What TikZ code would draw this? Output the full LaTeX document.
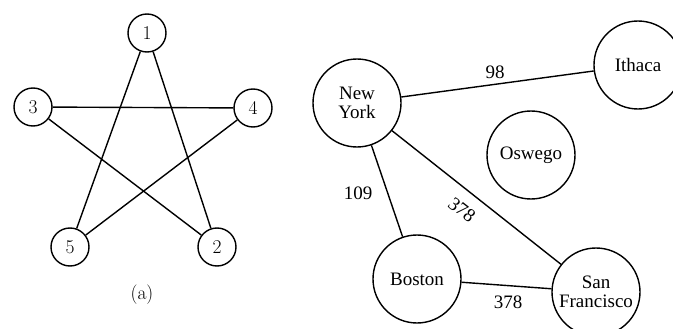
\documentclass[tikz,border=0pt]{standalone}
\usepackage{fontspec}
\newfontfamily\cityfont{Liberation Serif}
\begin{document}
\begin{tikzpicture}[x=1pt,y=-1pt,
  vertex/.style={circle,draw,line width=1.4pt,minimum size=38pt,inner sep=0pt,
    font=\fontsize{19.5}{22}\selectfont},
  city/.style={circle,draw,line width=1.4pt,minimum size=88pt,inner sep=0pt,
    align=center,font=\cityfont\fontsize{19}{19.5}\selectfont},
  edge/.style={line width=1.4pt},
  weight/.style={font=\cityfont\fontsize{19}{20}\selectfont,inner sep=0pt}]
  \useasboundingbox (0,0) rectangle (673,329);
  \clip (0,0) rectangle (673,329);

  % (a) five-vertex star
  \node[vertex] (v1) at (147,33)  {1};
  \node[vertex] (v3) at (33,107)  {3};
  \node[vertex] (v4) at (253,108) {4};
  \node[vertex] (v5) at (70,247)  {5};
  \node[vertex] (v2) at (217,247) {2};
  \draw[edge] (v1) -- (v5);
  \draw[edge] (v1) -- (v2);
  \draw[edge] (v3) -- (v4);
  \draw[edge] (v3) -- (v2);
  \draw[edge] (v4) -- (v5);
  \node[font=\fontsize{19.5}{22}\selectfont] (cap) at (142,295) {(a)};

  % city network with distances
  \node[city] (ny) at (357,103) {New\\York};
  \node[city] (ith) at (638,65) {Ithaca};
  \node[city] (osw) at (531,155) {Oswego};
  \node[city] (bos) at (417,279) {Boston};
  \node[city] (sf) at (596,292) {San\\Francisco};
  \draw[edge] (ny) -- (ith);
  \draw[edge] (ny) -- (bos);
  \draw[edge] (ny) -- (sf);
  \draw[edge] (bos) -- (sf);
  \node[weight] (w1) at (495,72) {98};
  \node[weight] (w2) at (358,193) {109};
  \node[weight,rotate=-38] (w3) at (462,210) {378};
  \node[weight] (w4) at (508,302) {378};
\end{tikzpicture}
\end{document}
